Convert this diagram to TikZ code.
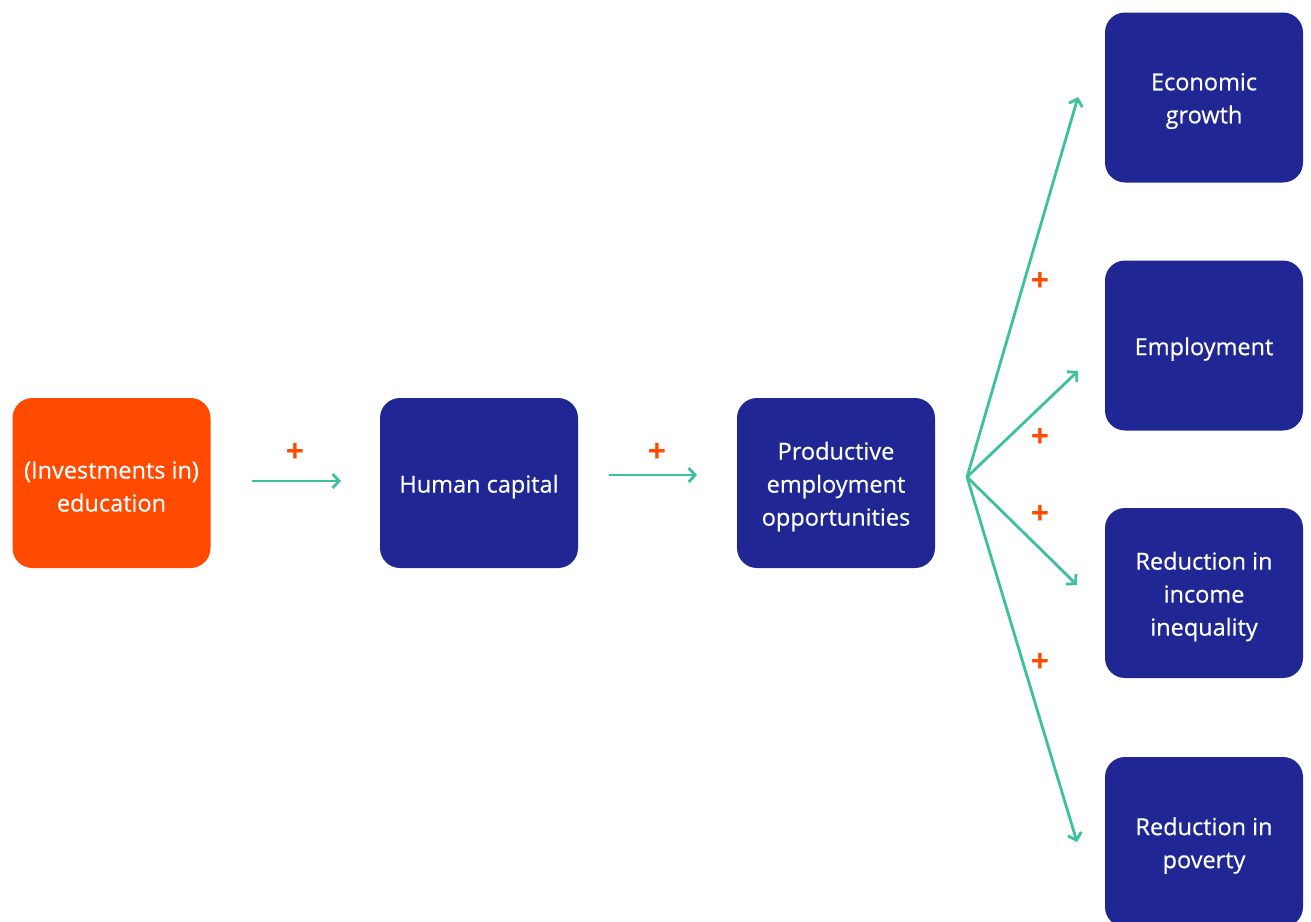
\documentclass[tikz,border=0pt]{standalone}
\usepackage{fontspec}
\setmainfont{Open Sans}
\newfontfamily\boxfont{Open Sans}[FakeBold=0.5]
\usetikzlibrary{arrows.meta}
\definecolor{navy}{HTML}{202693}
\definecolor{orng}{HTML}{FF4A00}
\definecolor{teal}{HTML}{3DC0A0}
\tikzset{
  box/.style={fill=navy, rounded corners=20pt, minimum width=198pt, minimum height=170pt,
    inner sep=0pt, label={[boxtext]center:#1}},
  boxtext/.style={yshift=-3.5pt, align=center, text=white, inner sep=0pt,
    font=\boxfont\fontsize{23.5}{33}\selectfont},
  orbox/.style={box=#1, fill=orng},
  conn/.style={draw=teal, line width=2.8pt, -{Straight Barb[length=6.5pt,width=14pt,line width=2.8pt]}},
  plus/.style={text=orng, font=\fontsize{32}{32}\selectfont\bfseries, inner sep=0pt}
}
\begin{document}
\begin{tikzpicture}[x=1pt,y=-1pt]
\useasboundingbox (0,0) rectangle (1311,921);
\node[orbox={(Investments in)\\education}] (edu) at (111.5,483) {};
\node[box={Human capital}] (hc) at (479,483) {};
\node[box={Productive\\employment\\opportunities}] (pe) at (836,483) {};
\node[box={Economic\\growth}] (eg) at (1204,97.5) {};
\node[box={Employment}] (em) at (1204,345.5) {};
\node[box={Reduction in\\income\\inequality}] (ri) at (1204,593) {};
\node[box={Reduction in\\poverty}] (rp) at (1204,842) {};
\coordinate (a1s) at (252,481);
\coordinate (a1e) at (341,481);
\coordinate (a2s) at (609,475);
\coordinate (a2e) at (697,475);
\coordinate (hub) at (967,477);
\coordinate (teg) at (1078,97);
\coordinate (tem) at (1078,371);
\coordinate (tri) at (1077,585);
\coordinate (trp) at (1077,842);
\draw[conn] (a1s) -- (a1e);
\draw[conn] (a2s) -- (a2e);
\draw[conn] (hub) -- (teg);
\draw[conn] (hub) -- (tem);
\draw[conn] (hub) -- (tri);
\draw[conn] (hub) -- (trp);
\node[plus] (p1) at (295,453) {+};
\node[plus] (p2) at (657,453) {+};
\node[plus] (p3) at (1040,282) {+};
\node[plus] (p4) at (1040,438) {+};
\node[plus] (p5) at (1040,515) {+};
\node[plus] (p6) at (1040,663) {+};
\end{tikzpicture}
\end{document}
